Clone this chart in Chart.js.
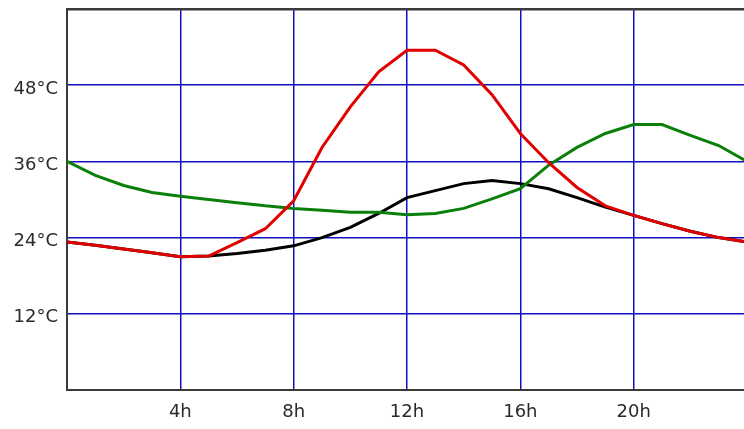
<!DOCTYPE html>
<html>
<head>
<meta charset="utf-8">
<script src="https://cdn.jsdelivr.net/npm/chart.js@4"></script>
<style>
  html, body { margin: 0; padding: 0; background: #fff; overflow: hidden; }
  #wrap { width: 748px; height: 429px; position: relative; }
</style>
</head>
<body>
<div id="wrap"><canvas id="tempChart"></canvas></div>
<script>
  // ==================== Data ====================
  const hours = [0, 1, 2, 3, 4, 5, 6, 7, 8, 9, 10, 11, 12, 13, 14, 15, 16, 17, 18, 19, 20, 21, 22, 23, 24];
  const redTemps = [23.3, 22.8, 22.2, 21.6, 21, 21.1, 23.2, 25.4, 29.8, 38.2, 44.6, 50.1, 53.5, 53.5, 51.2, 46.5, 40.4, 35.8, 31.9, 29, 27.5, 26.2, 25, 24, 23.3];
  const blackTemps = [23.3, 22.8, 22.2, 21.6, 21, 21.1, 21.5, 22, 22.7, 24, 25.6, 27.8, 30.3, 31.4, 32.5, 33, 32.5, 31.7, 30.3, 28.8, 27.5, 26.2, 25, 24, 23.3];
  const greenTemps = [36, 33.8, 32.2, 31.1, 30.5, 30, 29.5, 29, 28.6, 28.3, 28, 28, 27.6, 27.8, 28.6, 30.1, 31.7, 35.4, 38.2, 40.4, 41.8, 41.8, 40.1, 38.5, 36];

  const xTicks = [0, 4, 8, 12, 16, 20, 24];
  const xTickLabels = ['', '4h', '8h', '12h', '16h', '20h', ''];
  const yTicks = [0, 12, 24, 36, 48, 60];
  const yTickLabels = ['', '12°C', '24°C', '36°C', '48°C', ''];

  function toPoints(values) {
    return hours.map((h, i) => ({ x: h, y: values[i] }));
  }

  const gridBlue = '#1010c0';
  const frame = '#3a3a3a';
  const labelFont = { family: 'DejaVu Sans', size: 18 };

  // drop the room chart.js keeps for half-labels at the ends of each axis
  function noEndPadding(axis) {
    axis.paddingLeft = 0;
    axis.paddingRight = 0;
    axis.paddingTop = 0;
    axis.paddingBottom = 0;
  }

  const ctx = document.getElementById('tempChart').getContext('2d');
  new Chart(ctx, {
    type: 'line',
    data: {
      datasets: [
        { data: toPoints(redTemps), borderColor: '#e00000', order: 0 },
        { data: toPoints(greenTemps), borderColor: '#0a800a', order: 1 },
        { data: toPoints(blackTemps), borderColor: '#000000', order: 2 }
      ]
    },
    options: {
      responsive: true,
      maintainAspectRatio: false,
      animation: false,
      layout: { padding: { top: 9, right: 1, left: 0, bottom: 0 } },
      elements: {
        line: { borderWidth: 3, tension: 0, fill: false },
        point: { radius: 0 }
      },
      plugins: { legend: { display: false }, tooltip: { enabled: false } },
      scales: {
        x: {
          type: 'linear',
          min: 0,
          max: 24,
          afterBuildTicks: axis => { axis.ticks = xTicks.map(v => ({ value: v })); },
          afterFit: axis => { axis.height = 39; noEndPadding(axis); },
          grid: {
            color: gridBlue,
            lineWidth: 1.5,
            drawTicks: false
          },
          border: { color: frame, width: 2 },
          ticks: {
            padding: 12,
            color: '#2a2a2a',
            font: labelFont,
            maxRotation: 0,
            callback: value => xTickLabels[xTicks.indexOf(value)]
          }
        },
        y: {
          min: 0,
          max: 60,
          afterBuildTicks: axis => { axis.ticks = yTicks.map(v => ({ value: v })); },
          afterFit: axis => { axis.width = 67; noEndPadding(axis); },
          grid: {
            color: c => (c.tick && c.tick.value === 60 ? frame : gridBlue),
            lineWidth: c => (c.tick && c.tick.value === 60 ? 2.5 : 1.5),
            drawTicks: false
          },
          border: { color: frame, width: 2 },
          ticks: {
            padding: 9,
            labelOffset: 4,
            color: '#2a2a2a',
            font: labelFont,
            callback: value => yTickLabels[yTicks.indexOf(value)]
          }
        }
      }
    }
  });
</script>
</body>
</html>
